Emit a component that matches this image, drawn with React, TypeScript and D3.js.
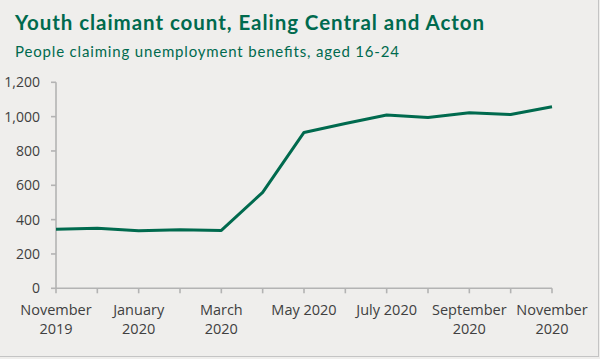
import React from "react";
import * as d3 from "d3";

const months = [
  "Nov 2019", "Dec 2019", "Jan 2020", "Feb 2020", "Mar 2020", "Apr 2020", "May 2020",
  "Jun 2020", "Jul 2020", "Aug 2020", "Sep 2020", "Oct 2020", "Nov 2020",
];
const claimants = [344, 350, 335, 341, 337, 559, 908, 960, 1010, 995, 1022, 1012, 1057];
const yTicks = [0, 200, 400, 600, 800, 1000, 1200];
const xLabelIdx = [0, 2, 4, 6, 8, 10, 12];
const xLabels = [
  ["November", "2019"], ["January", "2020"], ["March", "2020"], ["May 2020"],
  ["July 2020"], ["September", "2020"], ["November", "2020"],
];

const W = 600, H = 359;
const GREEN = "#006a4e";
const AXIS = "#b3b3b3";
const LABEL = "#404040";

export default function App() {
  const x = d3.scalePoint<string>().domain(months).range([56, 552]);
  const y = d3.scaleLinear().domain([0, 1200]).range([288.3, 82.3]);
  const line = d3.line<number>()
    .x((_, i) => x(months[i]) as number)
    .y((d) => y(d));
  const tickFont = "'Open Sans', sans-serif";
  return (
    <svg width={W} height={H} style={{ position: "absolute", left: 0, top: 0 }}>
      <rect x={0} y={0} width={W} height={H} fill="#efeeec" />
      <line x1={598.5} x2={598.5} y1={0} y2={357} stroke="#c4c4c4" strokeWidth={1} />
      <line x1={0} x2={599} y1={356.5} y2={356.5} stroke="#c4c4c4" strokeWidth={1} />
      <text x={15} y={30} fill={GREEN} fontFamily="Lato, sans-serif" fontWeight={700} fontSize={20.5}
        textLength={469} lengthAdjust="spacing">
        Youth claimant count, Ealing Central and Acton
      </text>
      <text x={15} y={57} fill={GREEN} fontFamily="Lato, sans-serif" fontSize={15}
        textLength={384} lengthAdjust="spacing">
        People claiming unemployment benefits, aged 16-24
      </text>
      {/* y axis */}
      <line x1={56} x2={56} y1={y(1200)} y2={y(0)} stroke={AXIS} strokeWidth={1.6} />
      {yTicks.map((t) => (
        <g key={t}>
          <line x1={51} x2={56} y1={y(t)} y2={y(t)} stroke={AXIS} strokeWidth={1.6} />
          <text x={40} y={y(t)} dy="0.35em" textAnchor="end" fill={LABEL} fontFamily={tickFont} fontSize={14}>
            {d3.format(",")(t)}
          </text>
        </g>
      ))}
      {/* x axis */}
      <line x1={56} x2={552} y1={y(0)} y2={y(0)} stroke={AXIS} strokeWidth={1.6} />
      {months.map((m) => (
        <line key={m} x1={x(m)} x2={x(m)} y1={y(0)} y2={y(0) + 5} stroke={AXIS} strokeWidth={1.6} />
      ))}
      {xLabelIdx.map((idx, k) => (
        <text key={idx} x={x(months[idx])} y={315} textAnchor="middle" fill={LABEL} fontFamily={tickFont} fontSize={14.5}>
          {xLabels[k].map((s, j) => (
            <tspan key={j} x={x(months[idx])} dy={j === 0 ? 0 : 19}>{s}</tspan>
          ))}
        </text>
      ))}
      <path d={line(claimants) || ""} fill="none" stroke={GREEN} strokeWidth={3} strokeLinejoin="round" />
    </svg>
  );
}
